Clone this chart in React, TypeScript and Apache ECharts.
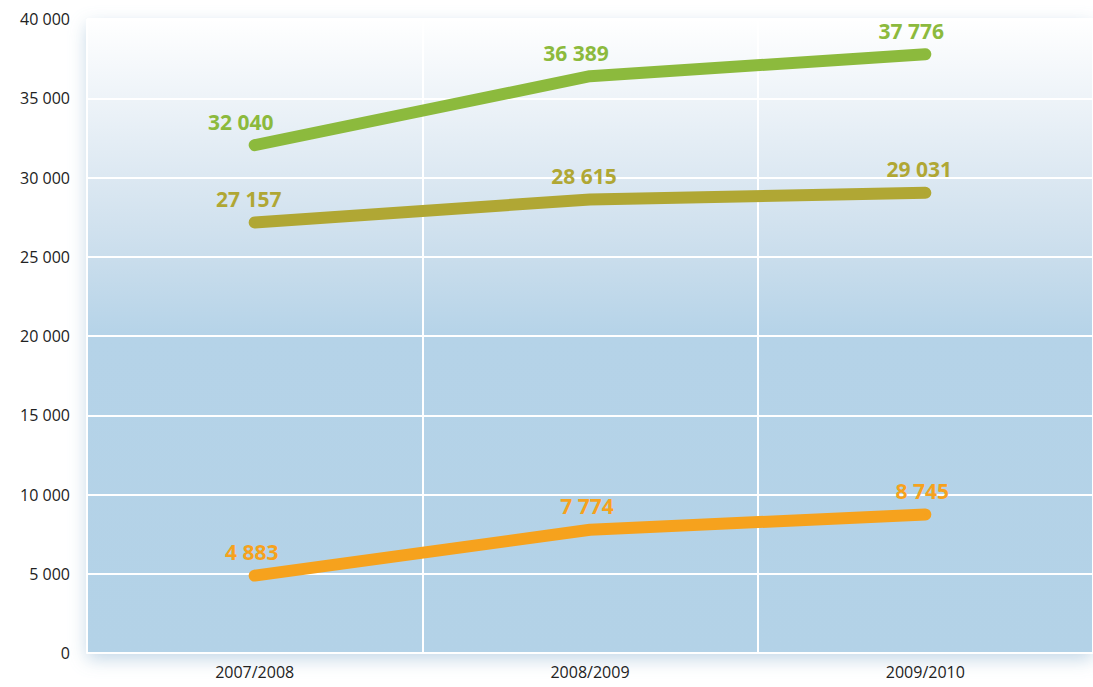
import React, { useEffect, useRef } from "react";
import * as echarts from "echarts";

const categories = ["2007/2008", "2008/2009", "2009/2010"];
const seriesGreen = [32040, 36389, 37776];
const seriesOlive = [27157, 28615, 29031];
const seriesOrange = [4883, 7774, 8745];
const yTicks = [0, 5000, 10000, 15000, 20000, 25000, 30000, 35000, 40000];

const fmt = (v: number) => {
  const s = String(Math.round(v));
  return s.replace(/\B(?=(\d{3})+(?!\d))/g, " ");
};

export default function App() {
  const ref = useRef<HTMLDivElement>(null);
  useEffect(() => {
    document.body.style.margin = "0";
    if (!ref.current) return;
    const chart = echarts.init(ref.current, null, { renderer: "svg" });
    const mk = (name: string, data: number[], color: string, offX: number) => ({
      name,
      type: "line",
      data,
      symbol: "circle",
      symbolSize: 2,
      showSymbol: true,
      itemStyle: { color },
      lineStyle: { color, width: 12, cap: "round", join: "round" },
      label: {
        show: true,
        position: "top",
        distance: 12,
        offset: [offX, 0],
        color,
        fontFamily: "Open Sans",
        fontWeight: "bold",
        fontSize: 21,
        formatter: (p: any) => fmt(p.value),
      },
      z: 3,
    });
    chart.setOption({
      animation: false,
      backgroundColor: "#ffffff",
      grid: {
        left: 87,
        right: -5,
        top: 19,
        bottom: 34,
        show: true,
        borderWidth: 0,
        backgroundColor: new echarts.graphic.LinearGradient(0, 0, 0, 1, [
          { offset: 0, color: "#ffffff" },
          { offset: 0.13, color: "#edf3f8" },
          { offset: 0.25, color: "#dce8f2" },
          { offset: 0.38, color: "#c9ddec" },
          { offset: 0.5, color: "#b5d3e8" },
          { offset: 1, color: "#b3d2e7" },
        ]),
        shadowBlur: 18,
        shadowColor: "rgba(120,165,200,0.45)",
        shadowOffsetY: 6,
      },
      xAxis: {
        type: "category",
        data: categories,
        boundaryGap: true,
        axisLine: { show: true, lineStyle: { color: "#ffffff", width: 2 } },
        axisTick: { show: false },
        splitLine: { show: true, lineStyle: { color: "#ffffff", width: 2 } },
        axisLabel: {
          color: "#222222",
          fontFamily: "Open Sans",
          fontSize: 16,
          margin: 11,
        },
      },
      yAxis: {
        type: "value",
        min: yTicks[0],
        max: yTicks[yTicks.length - 1],
        interval: 5000,
        axisLine: { show: false },
        axisTick: { show: false },
        splitLine: { show: true, lineStyle: { color: "#ffffff", width: 2 } },
        axisLabel: {
          color: "#222222",
          fontFamily: "Open Sans",
          fontSize: 16,
          margin: 17,
          formatter: (v: number) => fmt(v),
        },
      },
      series: [
        mk("green", seriesGreen, "#8cba3d", -14),
        mk("olive", seriesOlive, "#b0a734", -6),
        mk("orange", seriesOrange, "#f6a21d", -3),
      ],
    });
    return () => chart.dispose();
  }, []);
  return <div ref={ref} style={{ width: 1093, height: 687 }} />;
}
